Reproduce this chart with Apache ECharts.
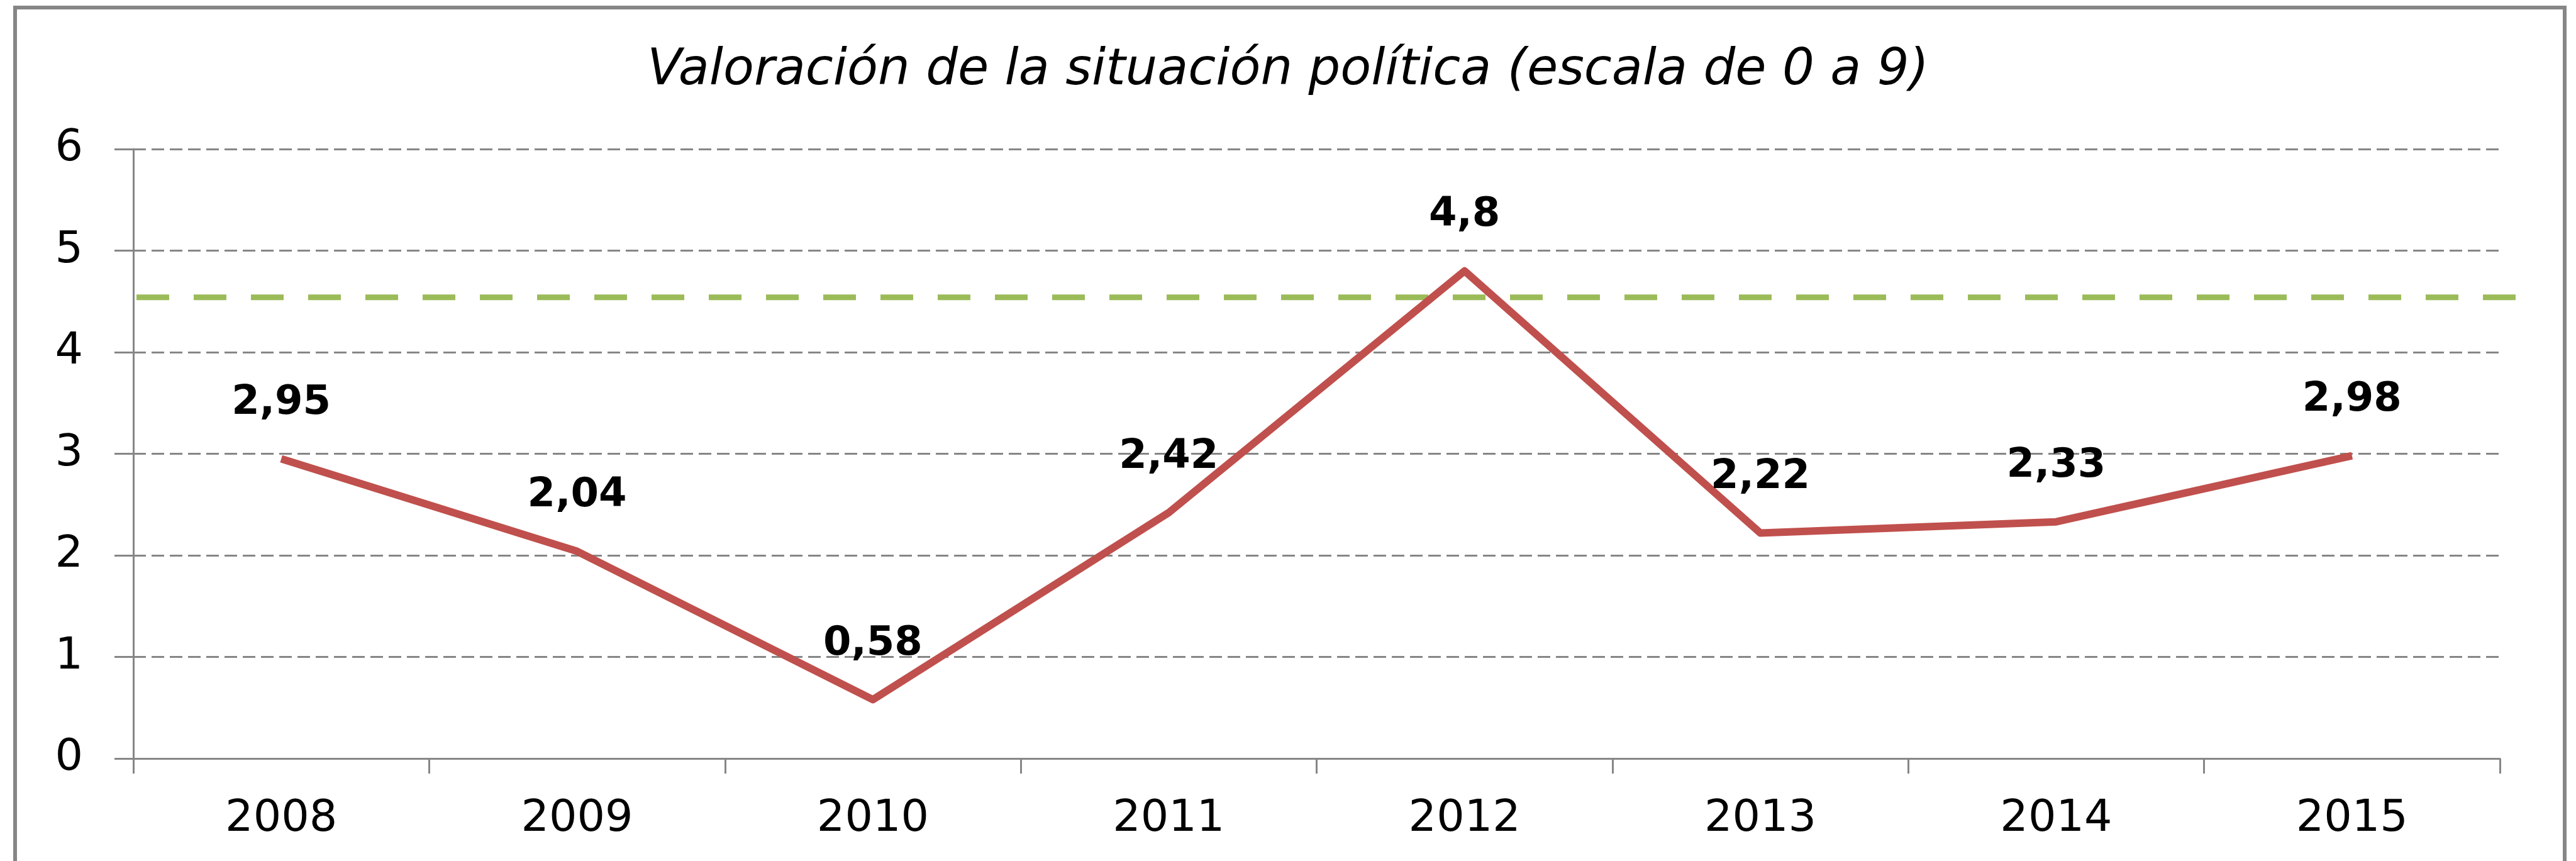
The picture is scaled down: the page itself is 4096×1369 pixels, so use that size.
<!DOCTYPE html>
<html>
<head>
	<meta charset="UTF-8">
	<title>Valoración de la situación política</title>
	<style>
		html, body { margin: 0; padding: 0; background: #fff; }
		#chart { width: 4096px; height: 1369px; }
	</style>
</head>
<body>
	<div id="chart"></div>

	<script type="text/javascript" src="https://cdn.jsdelivr.net/npm/echarts@6/dist/echarts.min.js"></script>
	<script type="text/javascript">

		var years = ['2008', '2009', '2010', '2011', '2012', '2013', '2014', '2015'];
		var valores = [2.95, 2.04, 0.58, 2.42, 4.8, 2.22, 2.33, 2.98];
		var referencia = 4.54;   // linea verde discontinua
		var yTicks = [0, 1, 2, 3, 4, 5, 6];

		var chart = echarts.init(document.getElementById('chart'));

		var gris = '#868686';

		var option = {
			backgroundColor: '#fff',
			animation: false,
			title: {
				text: 'Valoración de la situación política (escala de 0 a 9)',
				left: 'center',
				top: 68,
				textStyle: {
					fontFamily: 'DejaVu Sans',
					fontStyle: 'italic',
					fontWeight: 'normal',
					fontSize: 80,
					lineHeight: 80,
					color: '#000'
				}
			},
			graphic: [{
				type: 'rect',
				shape: { x: 24, y: 12, width: 4054, height: 1400 },
				style: { fill: 'none', stroke: gris, lineWidth: 6 },
				silent: true
			}],
			grid: [
				{ left: 212, right: 121, top: 237, bottom: 163 },
				// grid auxiliar, un poco mas ancho, para la linea de referencia
				{ left: 217, right: 63, top: 237, bottom: 163 }
			],
			xAxis: [{
				gridIndex: 0,
				type: 'category',
				data: years,
				boundaryGap: true,
				axisLine: { lineStyle: { color: gris, width: 3 } },
				axisTick: { show: true, alignWithLabel: false, length: 24, lineStyle: { color: gris, width: 3 } },
				axisLabel: {
					margin: 62,
					fontFamily: 'DejaVu Sans',
					fontSize: 70,
					lineHeight: 70,
					color: '#000'
				},
				splitLine: { show: false }
			}, {
				gridIndex: 1,
				type: 'value',
				min: 0,
				max: 1,
				show: false
			}],
			yAxis: [{
				gridIndex: 0,
				type: 'value',
				min: yTicks[0],
				max: yTicks[yTicks.length - 1],
				interval: 1,
				axisLine: { show: true, lineStyle: { color: gris, width: 3 } },
				axisTick: { show: true, length: 30, lineStyle: { color: gris, width: 3 } },
				axisLabel: {
					margin: 80,
					fontFamily: 'DejaVu Sans',
					fontSize: 70,
					lineHeight: 70,
					color: '#000',
					formatter: function (v) { return String(v); }
				},
				splitLine: {
					show: true,
					lineStyle: { color: gris, width: 3, type: [20, 9] }
				}
			}, {
				gridIndex: 1,
				type: 'value',
				min: yTicks[0],
				max: yTicks[yTicks.length - 1],
				show: false
			}],
			series: [{
				name: 'referencia',
				type: 'line',
				xAxisIndex: 1,
				yAxisIndex: 1,
				data: [[0, referencia], [1, referencia]],
				symbol: 'none',
				silent: true,
				lineStyle: { color: '#9BBB59', width: 9, type: [52, 39] },
				z: 1
			}, {
				name: 'valoracion',
				type: 'line',
				data: valores,
				symbol: 'circle',
				symbolSize: 0,
				showSymbol: true,
				itemStyle: { color: '#C0504D' },
				lineStyle: { color: '#C0504D', width: 12, join: 'round' },
				label: {
					show: true,
					position: 'top',
					distance: 56,
					fontFamily: 'DejaVu Sans',
					fontWeight: 'bold',
					fontSize: 64,
					lineHeight: 64,
					color: '#000',
					formatter: function (p) { return String(p.value).replace('.', ','); }
				},
				z: 3
			}]
		};

		chart.setOption(option);

	</script>
</body>
</html>
